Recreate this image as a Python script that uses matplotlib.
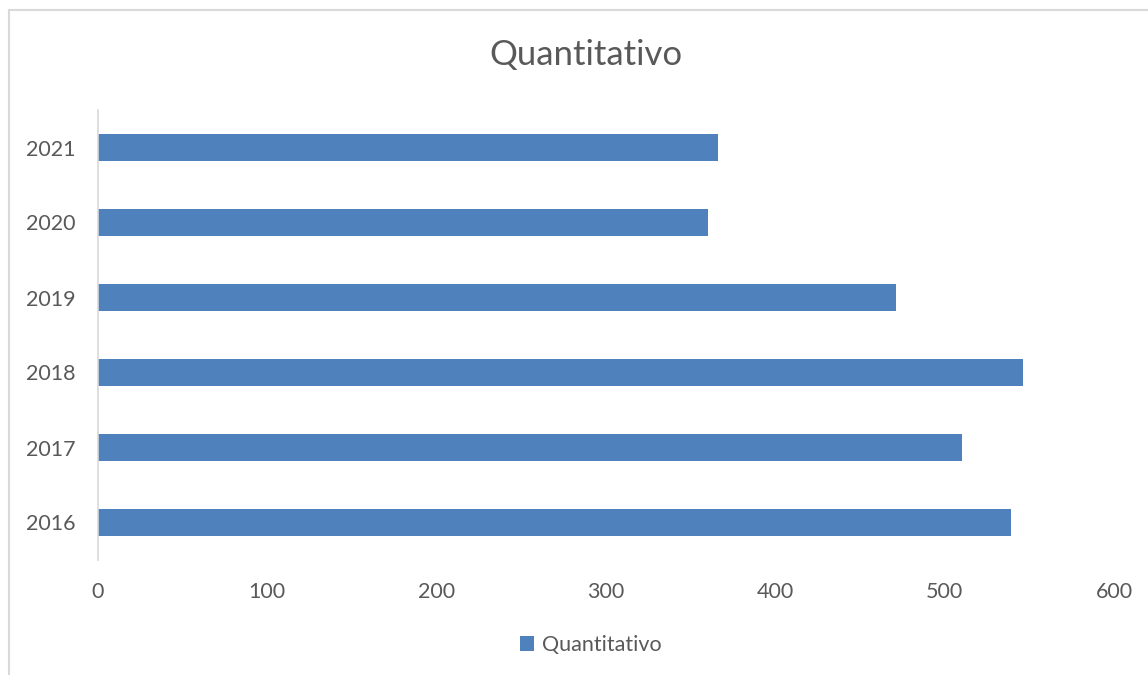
import matplotlib.pyplot as plt
from matplotlib.patches import Rectangle

years = ['2016', '2017', '2018', '2019', '2020', '2021']
quantitativo = [539, 510, 546, 471, 360, 366]

plt.rcParams['font.family'] = ['Lato', 'DejaVu Sans']
txt = '#595959'

fig = plt.figure(figsize=(11.48, 6.75), dpi=100)
ax = fig.add_axes([98 / 1148, 1 - 560 / 675, 1016 / 1148, 450 / 675])

ax.barh(years, quantitativo, height=0.35, color='#4F81BD', label='Quantitativo')
ax.set_xlim(0, 600)
ax.set_ylim(-0.5, 5.5)
ax.set_xticks(range(0, 601, 100))

for s in ['top', 'right', 'bottom']:
    ax.spines[s].set_visible(False)
ax.spines['left'].set_color('#d9d9d9')
ax.spines['left'].set_linewidth(1.2)
ax.tick_params(length=0, labelsize=15.5, colors=txt)
ax.tick_params(axis='y', pad=16)
ax.tick_params(axis='x', pad=16)

fig.text(586 / 1148, 1 - 55 / 675, 'Quantitativo', ha='center', va='center', fontsize=25, color=txt)

fig.legend(loc='center', bbox_to_anchor=(591 / 1148, 1 - 645 / 675), frameon=False,
           fontsize=15.5, labelcolor=txt, handlelength=0.65, handleheight=0.65,
           handletextpad=0.35)

# light chart border
fig.patches.append(Rectangle((9 / 1148, -0.1), 1.2, 1 - 10 / 675 + 0.1, transform=fig.transFigure,
                             fill=False, edgecolor='#d9d9d9', linewidth=1.5))

fig.savefig('out.png', dpi=100)
